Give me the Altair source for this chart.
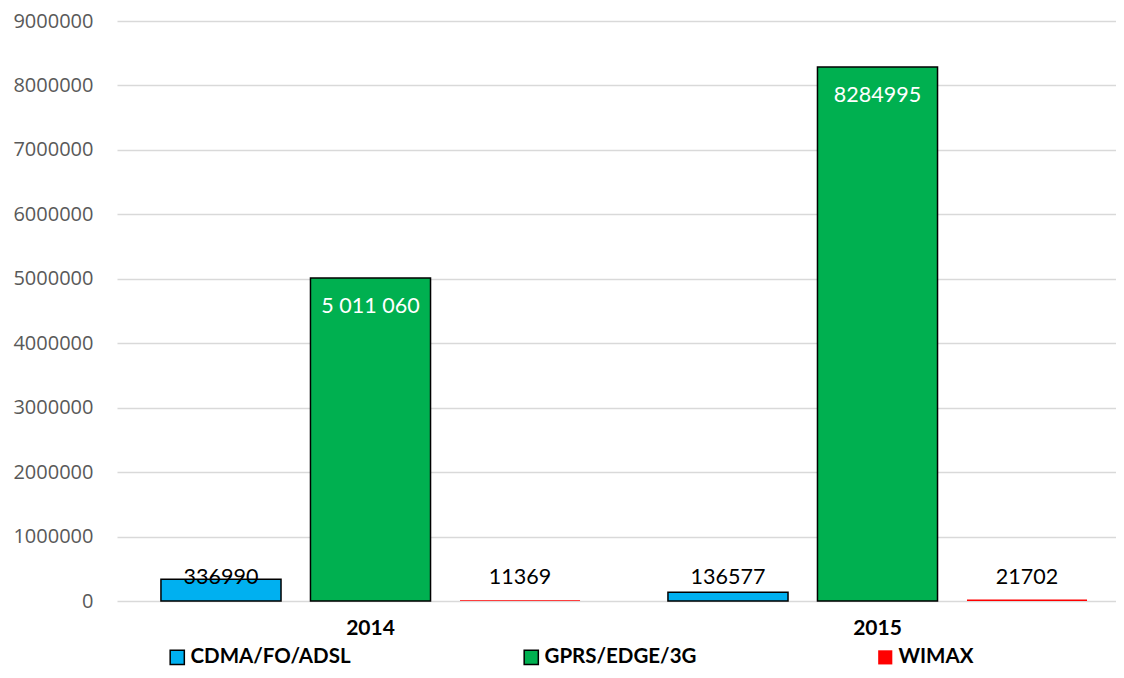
import altair as alt
import pandas as pd

years = ["2014", "2015"]
series = ["CDMA/FO/ADSL", "GPRS/EDGE/3G", "WIMAX"]
values_2014 = [336990, 5011060, 11369]
values_2015 = [136577, 8284995, 21702]
labels_2014 = ["336990", "5 011 060", "11369"]
labels_2015 = ["136577", "8284995", "21702"]
colors = ["#00B0F0", "#00B050", "#FF0000"]
strokes = ["#000000", "#000000", "transparent"]
y_ticks = [0, 1000000, 2000000, 3000000, 4000000, 5000000, 6000000, 7000000, 8000000, 9000000]

rows = []
for yr, vals, labs in [(years[0], values_2014, labels_2014), (years[1], values_2015, labels_2015)]:
    for s, v, l in zip(series, vals, labs):
        rows.append({"year": yr, "series": s, "value": v, "label": l})
df = pd.DataFrame(rows)

legend = alt.Legend(
    title=None, orient="none", legendX=50, legendY=626, direction="horizontal",
    columns=3, gridAlign="all", columnPadding=170, symbolType="square", padding=0,
    symbolSize=200, symbolStrokeWidth=1.5, labelFont="Lato", labelFontWeight="bold",
    labelFontSize=20.5, labelColor="black", labelOffset=3, labelLimit=400,
)

x = alt.X("year:N", sort=years,
          scale=alt.Scale(range=[0, 1014], paddingInner=0, paddingOuter=0),
          axis=alt.Axis(title=None, labelAngle=0, ticks=False, domain=False, grid=False,
                        labelFont="Lato", labelFontWeight="bold", labelFontSize=21,
                        labelColor="black", labelPadding=16))
xo = alt.XOffset("series:N", sort=series,
                 scale=alt.Scale(domain=series, paddingInner=0.197, paddingOuter=0.294))
y = alt.Y("value:Q", scale=alt.Scale(domain=[0, 9000000], nice=False),
          axis=alt.Axis(title=None, values=y_ticks, format="d", ticks=False, domain=False,
                        labelFont="Open Sans", labelFontSize=20, labelColor="#595959",
                        labelPadding=24, gridColor="#d9d9d9", gridWidth=1.5))

base = alt.Chart(df)

bars = base.mark_bar(strokeWidth=1.5).encode(
    x=x, xOffset=xo, y=y,
    fill=alt.Fill("series:N", sort=series, scale=alt.Scale(domain=series, range=colors), legend=legend),
    stroke=alt.Stroke("series:N", sort=series, scale=alt.Scale(domain=series, range=strokes), legend=legend),
)

outside = base.transform_filter(alt.datum.series != "GPRS/EDGE/3G").mark_text(
    font="Lato", fontSize=21.5, color="black", baseline="alphabetic", dy=-17
).encode(x=x, xOffset=xo, y=alt.datum(0), text="label:N")

inside = base.transform_filter(alt.datum.series == "GPRS/EDGE/3G").mark_text(
    font="Lato", fontSize=21.5, color="white", baseline="alphabetic", dy=35
).encode(x=x, xOffset=xo, y=y, text="label:N")

chart = alt.layer(bars, outside, inside).properties(
    width=999, height=580, background="white",
    autosize=alt.AutoSizeParams(type="none"),
    padding={"left": 109, "top": 13, "right": 0, "bottom": 69},
).configure_view(stroke=None)

chart.save("out.html", embed_options={"renderer": "svg", "actions": False})
